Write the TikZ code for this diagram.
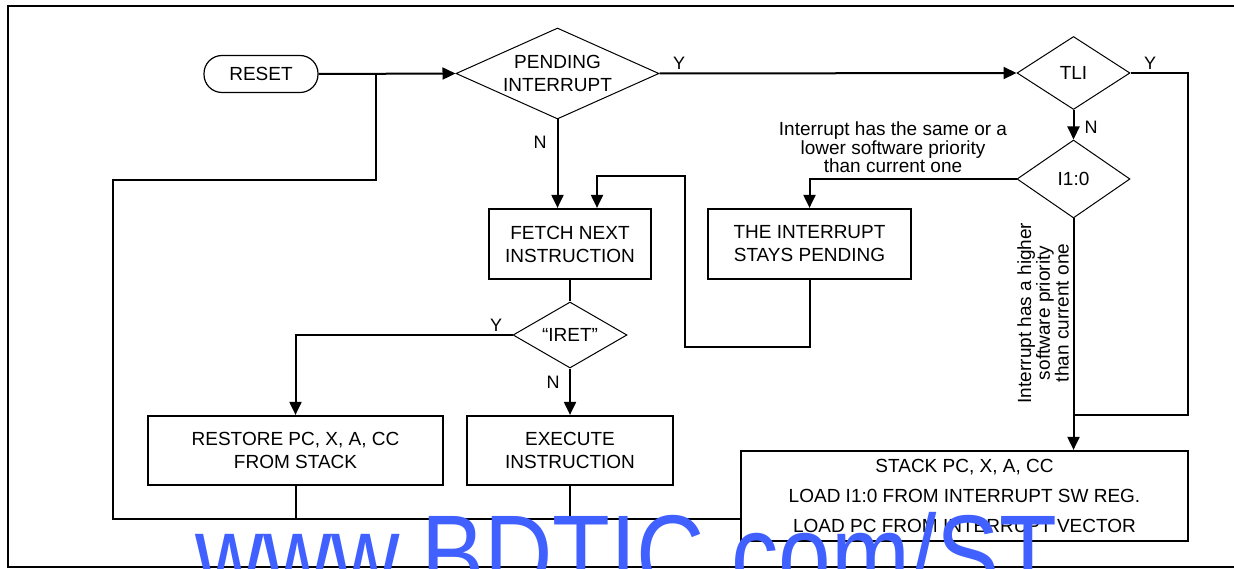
\documentclass[tikz,border=0pt]{standalone}
\usepackage{fontspec}
\setmainfont{Liberation Sans}
\usetikzlibrary{shapes.geometric,arrows.meta,calc}
\definecolor{wmblue}{RGB}{64,96,255}
\begin{document}
\begin{tikzpicture}[x=1pt,y=-1pt,
  wire/.style={line width=2pt},
  arr/.style={line width=2pt,-{Triangle[length=13pt,width=12pt]}},
  procbox/.style={draw,line width=2.2pt,inner sep=0pt,align=center,font=\fontsize{19}{23}\selectfont},
  decision/.style={draw,diamond,line width=1pt,inner sep=0pt,align=center,font=\fontsize{19}{23}\selectfont},
  terminal/.style={draw,line width=1.2pt,rounded corners=18pt,inner sep=0pt,font=\fontsize{19}{22}\selectfont},
  lab/.style={inner sep=0pt,font=\fontsize{18}{20}\selectfont},
  note/.style={inner sep=0pt,align=center,font=\fontsize{19}{16.5}\selectfont}]
\useasboundingbox (0,0) rectangle (1234,569);
% frame
\draw[line width=2.5pt] (1234,6) -- (8,6) -- (8,567) -- (1234,567);
% nodes
\node[terminal,minimum width=114pt,minimum height=37pt] (reset) at (261,74) {RESET};
\node[decision,aspect=2.23,minimum width=203pt,minimum height=91pt] (pend) at (557.5,73.5) {PENDING\\INTERRUPT};
\node[decision,aspect=1.55,minimum width=113pt,minimum height=73pt] (tli) at (1073.5,73) {TLI};
\node[decision,aspect=1.45,minimum width=113pt,minimum height=78pt] (i10) at (1073.5,179) {I1:0};
\node[procbox,minimum width=162pt,minimum height=70pt] (fetch) at (570,244) {FETCH NEXT\\INSTRUCTION};
\node[procbox,minimum width=203pt,minimum height=70pt] (stays) at (809.5,244) {THE INTERRUPT\\STAYS PENDING};
\node[decision,aspect=1.73,minimum width=114pt,minimum height=66pt] (iret) at (570,335) {“IRET”};
\node[procbox,minimum width=295pt,minimum height=69pt] (restore) at (295.5,450.5) {RESTORE PC, X, A, CC\\FROM STACK};
\node[procbox,minimum width=206pt,minimum height=69pt] (exec) at (570,450.5) {EXECUTE\\INSTRUCTION};
\node[procbox,minimum width=447pt,minimum height=90pt,font=\fontsize{19}{30}\selectfont] (stack) at (964.5,496) {STACK PC, X, A, CC\\LOAD I1:0 FROM INTERRUPT SW REG.\\LOAD PC FROM INTERRUPT VECTOR};
% labels
\node[lab] (ly1) at (679,63) {Y};
\node[lab] (ln1) at (540,142) {N};
\node[lab] (ly2) at (1150,63) {Y};
\node[lab] (ln2) at (1091,127) {N};
\node[lab] (ly3) at (496,325) {Y};
\node[lab] (ln3) at (553,382) {N};
\node[note] (nlow) at (893,147.5) {Interrupt has the same or a\\lower software priority\\than current one};
\node[note,rotate=90] (nhigh) at (1043,313) {Interrupt has a higher\\software priority\\than current one};
% coordinates
\coordinate (jn) at (376,180);
\coordinate (loopL) at (113,519);
\coordinate (loopT) at (113,180);
\coordinate (lp1) at (685,347);
\coordinate (lp2) at (685,176);
\coordinate (lp3) at (597,176);
\coordinate (yr) at (1188,415);
% connectors
\draw[arr] (reset.east) -- (pend.west);
\draw[wire] (stack.west |- loopL) -- (loopL) -- (loopT) -- (jn) -- (jn |- reset.east);
\draw[wire] (restore.south) -- (restore.south |- loopL);
\draw[wire] (exec.south) -- (exec.south |- loopL);
\draw[arr] (pend.east) -- (tli.west);
\draw[arr] (pend.south) -- (pend.south |- fetch.north);
\draw[arr] (stays.south) |- (lp1) -- (lp2) -- (lp3) -- (lp3 |- fetch.north);
\draw[wire] (tli.east) -| (yr) -- (yr -| i10.south);
\draw[arr] (tli.south) -- (i10.north);
\draw[arr] (i10.west) -| (stays.north);
\draw[arr] (i10.south) -- (i10.south |- stack.north);
\draw[wire] (fetch.south) -- (iret.north);
\draw[arr] (iret.west) -| (restore.north);
\draw[arr] (iret.south) -- (exec.north);
% watermark
\node[anchor=base west,inner sep=0pt,text=wmblue,xscale=0.845,font=\fontsize{112}{112}\selectfont] (wm) at (195,593) {www.BDTIC.com/ST};
\end{tikzpicture}
\end{document}
